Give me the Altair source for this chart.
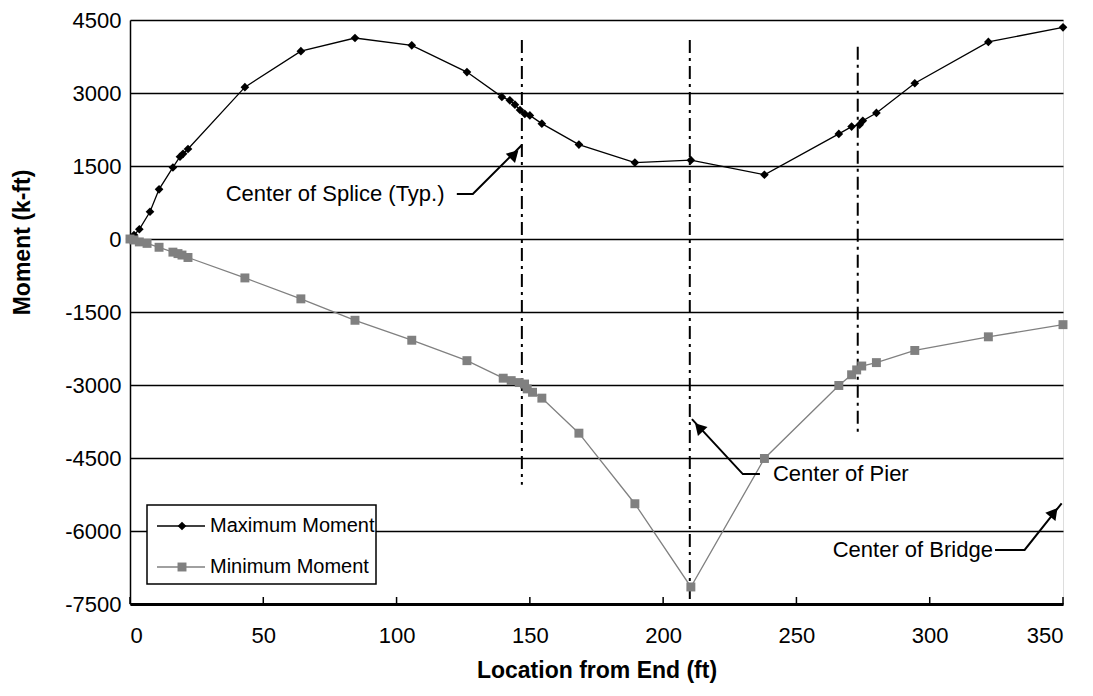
import altair as alt
import pandas as pd

# ---- data ----
max_x = [0, 1.5, 3.5, 7.5, 10.9, 16.1, 18.75, 19.9, 21.75, 43.1, 64.1, 84.4, 105.7,
         126.4, 139.5, 142.5, 144.4, 146.3, 148.1, 150.0, 154.5, 168.4, 189.4, 210.4,
         238.0, 265.9, 270.7, 273.7, 274.9, 280.0, 294.4, 322.0, 350.0]
max_y = [0, 80, 200, 560, 1020, 1470, 1690, 1750, 1850, 3120, 3860, 4130, 3980,
         3430, 2920, 2850, 2760, 2650, 2570, 2540, 2370, 1940, 1570, 1620,
         1320, 2160, 2310, 2350, 2430, 2590, 3200, 4050, 4350]

min_x = [0, 1.5, 3.5, 6.4, 10.9, 16.1, 18.0, 19.5, 21.75, 43.1, 64.1, 84.4, 105.7,
         126.4, 140.0, 143.0, 146.0, 148.0, 149.0, 151.0, 154.5, 168.4, 189.4, 210.4,
         238.0, 265.9, 270.7, 272.6, 274.5, 280.0, 294.4, 322.0, 350.0]
min_y = [0, -20, -60, -90, -170, -270, -300, -330, -380, -800, -1230, -1670, -2080,
         -2500, -2860, -2910, -2950, -2980, -3080, -3150, -3270, -3990, -5440, -7150,
         -4510, -3010, -2790, -2690, -2610, -2540, -2290, -2010, -1760]

series_names = ["Maximum Moment", "Minimum Moment"]
x_ticks = [0, 50, 100, 150, 200, 250, 300, 350]
y_ticks = [-7500, -6000, -4500, -3000, -1500, 0, 1500, 3000, 4500]

# vertical dash-dot reference lines (splices and pier)
ref_x = [147, 210, 273]
ref_top = [4090, 4090, 3950]
ref_bot = [-5050, -7500, -4000]

# annotations
ann_text = ["Center of Splice (Typ.)", "Center of Pier", "Center of Bridge"]
ann_tx = [118.0, 241.2, 263.6]
ann_ty = [925, -4830, -6390]
ann_align = ["right", "left", "left"]
# leader polylines: (group, x, y)
lead_g = [0, 0, 0, 1, 1, 1, 2, 2, 2]
lead_x = [122.6, 128.6, 147.0, 236.3, 229.9, 210.8, 324.5, 335.6, 349.5]
lead_y = [925, 925, 1930, -4830, -4830, -3700, -6390, -6390, -5430]
arrow_x = [144.2, 213.4, 346.6]
arrow_y = [1740, -3870, -5620]
arrow_angle = [45, 317, 39]

FONT = "Liberation Sans"
W, H = 933, 584
XD = [0, 350]
YD = [-7500, 4500]

df = pd.DataFrame({
    "x": max_x + min_x,
    "y": max_y + min_y,
    "s": [series_names[0]] * len(max_x) + [series_names[1]] * len(min_x),
    "o": list(range(len(max_x))) + list(range(len(min_x))),
})

xs = alt.Scale(domain=XD, nice=False, zero=False)
ys = alt.Scale(domain=YD, nice=False, zero=False)

X = alt.X("x:Q", scale=xs, axis=alt.Axis(
    values=x_ticks, title="Location from End (ft)", grid=False, ticks=False,
    labelExpr="'' + datum.value",
    labelFont=FONT, labelFontSize=22, labelColor="black", labelPadding=21,
    titleFont=FONT, titleFontSize=23, titleFontWeight="bold", titleColor="black",
    titlePadding=13, domainColor="black", domainWidth=3))
Y = alt.Y("y:Q", scale=ys, axis=alt.Axis(
    values=y_ticks, title="Moment (k-ft)", grid=True, gridColor="black", gridWidth=1.6,
    labelExpr="'' + datum.value",
    ticks=False, labelFont=FONT, labelFontSize=22, labelColor="black", labelPadding=9,
    titleFont=FONT, titleFontSize=23, titleFontWeight="bold", titleColor="black",
    titlePadding=30, titleY=222, domainColor="black", domainWidth=1.5))

color = alt.Color("s:N", scale=alt.Scale(domain=series_names, range=["#000000", "#808080"]),
                  legend=None)

lines = alt.Chart(df).mark_line(strokeWidth=1.3).encode(x=X, y=Y, color=color, order="o:Q")

pmax = alt.Chart(df[df.s == series_names[0]]).mark_point(
    shape="diamond", filled=True, size=75, opacity=1, color="#000000").encode(
    x=alt.X("x:Q", scale=xs), y=alt.Y("y:Q", scale=ys))
pmin = alt.Chart(df[df.s == series_names[1]]).mark_point(
    shape="square", filled=True, size=80, opacity=1, color="#808080").encode(
    x=alt.X("x:Q", scale=xs), y=alt.Y("y:Q", scale=ys))

# x ticks drawn inside the plot
tick_df = pd.DataFrame({"x": x_ticks})
xt = alt.Chart(tick_df).mark_rule(color="black", strokeWidth=1.5).encode(
    x=alt.X("x:Q", scale=xs), y=alt.value(H), y2=alt.value(H - 7))

ref_df = pd.DataFrame({"x": ref_x, "y": ref_top, "y2": ref_bot})
refs = alt.Chart(ref_df).mark_rule(color="black", strokeWidth=2,
                                   strokeDash=[13, 5, 3, 5]).encode(
    x=alt.X("x:Q", scale=xs), y=alt.Y("y:Q", scale=ys), y2="y2:Q")

ann_df = pd.DataFrame({"t": ann_text, "x": ann_tx, "y": ann_ty, "a": ann_align})
texts = []
for i in range(len(ann_text)):
    texts.append(alt.Chart(ann_df.iloc[[i]]).mark_text(
        font=FONT, fontSize=22, color="black", align=ann_align[i], baseline="middle").encode(
        x=alt.X("x:Q", scale=xs), y=alt.Y("y:Q", scale=ys), text="t:N"))

lead_df = pd.DataFrame({"g": lead_g, "x": lead_x, "y": lead_y, "o": list(range(len(lead_g)))})
leads = alt.Chart(lead_df).mark_line(color="black", strokeWidth=2).encode(
    x=alt.X("x:Q", scale=xs), y=alt.Y("y:Q", scale=ys), detail="g:N", order="o:Q")

arrow_df = pd.DataFrame({"x": arrow_x, "y": arrow_y, "a": arrow_angle})
arrows = alt.Chart(arrow_df).mark_point(shape="triangle-up", filled=True, size=170,
                                        opacity=1, color="black").encode(
    x=alt.X("x:Q", scale=xs), y=alt.Y("y:Q", scale=ys), angle=alt.Angle("a:Q", scale=None))

# legend box (drawn with marks)
leg_box = alt.Chart(pd.DataFrame({"d": [0]})).mark_rect(
    fill="white", stroke="black", strokeWidth=1.5).encode(
    x=alt.value(17), x2=alt.value(246), y=alt.value(485), y2=alt.value(564))
leg_df = pd.DataFrame({"s": series_names, "yy": [506, 547]})
leg_lines = alt.Chart(leg_df).mark_rule(strokeWidth=1.5).encode(
    x=alt.value(27), x2=alt.value(75), y=alt.Y("yy:Q", scale=None),
    color=alt.Color("s:N", scale=alt.Scale(domain=series_names, range=["#000000", "#808080"]),
                    legend=None))
leg_pmax = alt.Chart(leg_df.iloc[[0]]).mark_point(
    shape="diamond", filled=True, size=75, opacity=1, color="#000000").encode(
    x=alt.value(52), y=alt.Y("yy:Q", scale=None))
leg_pmin = alt.Chart(leg_df.iloc[[1]]).mark_point(
    shape="square", filled=True, size=80, opacity=1, color="#808080").encode(
    x=alt.value(52), y=alt.Y("yy:Q", scale=None))
leg_text = alt.Chart(leg_df).mark_text(
    font=FONT, fontSize=20, color="black", align="left", baseline="middle").encode(
    x=alt.value(80), y=alt.Y("yy:Q", scale=None), text="s:N")

chart = alt.layer(
    lines, refs, pmax, pmin, xt, leads, arrows, *texts,
    leg_box, leg_lines, leg_pmax, leg_pmin, leg_text
).properties(
    width=W, height=H,
    autosize=alt.AutoSizeParams(type="none"),
    padding={"left": 122, "top": 12, "right": 22, "bottom": 90},
).configure_view(stroke="black", strokeWidth=2.5).configure(background="white")

chart.save("out.html", embed_options={"renderer": "svg", "actions": False})
